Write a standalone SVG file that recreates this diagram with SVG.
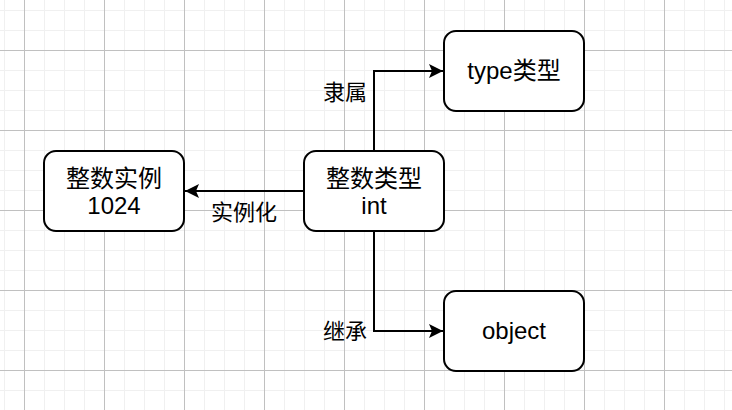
<svg xmlns="http://www.w3.org/2000/svg" width="732" height="410" viewBox="0 0 732 410">
<style>
.node rect{fill:#ffffff;stroke:#000000;stroke-width:2}
.node text{font-family:"Liberation Sans","Noto Sans CJK SC",sans-serif;font-size:24px;fill:#000000;text-anchor:middle}
.edge{fill:none;stroke:#000000;stroke-width:2}
.lbl{font-family:"Liberation Sans","Noto Sans CJK SC",sans-serif;font-size:22px;fill:#000000;text-anchor:middle}
</style>
<defs>
<pattern id="grid" patternUnits="userSpaceOnUse" x="24" y="50" width="80" height="80">
<rect x="20" y="0" width="1" height="80" fill="#f0f0f0"/>
<rect x="40" y="0" width="1" height="80" fill="#f0f0f0"/>
<rect x="60" y="0" width="1" height="80" fill="#f0f0f0"/>
<rect x="0" y="20" width="80" height="1" fill="#f0f0f0"/>
<rect x="0" y="40" width="80" height="1" fill="#f0f0f0"/>
<rect x="0" y="60" width="80" height="1" fill="#f0f0f0"/>
<rect x="0" y="0" width="1" height="80" fill="#c0c0c0"/>
<rect x="0" y="0" width="80" height="1" fill="#c0c0c0"/>
</pattern>
<marker id="arr" viewBox="0 0 14 14" refX="14" refY="7" markerWidth="14" markerHeight="14" markerUnits="userSpaceOnUse" orient="auto">
<path d="M0,0 L14,7 L0,14 L3,7 Z" fill="#000000"/>
</marker>
</defs>
<rect x="0" y="0" width="732" height="410" fill="#ffffff"/>
<rect x="0" y="0" width="732" height="410" fill="url(#grid)"/>
<g id="connectors">
<path class="edge" d="M374,151 L374,71 L443,71" marker-end="url(#arr)"/>
<path class="edge" d="M374,231 L374,331 L443,331" marker-end="url(#arr)"/>
<path class="edge" d="M304,191 L185,191" marker-end="url(#arr)"/>
<text class="lbl" x="345" y="100">隶属</text>
<text class="lbl" x="345" y="339">继承</text>
<text class="lbl" x="244" y="220">实例化</text>
</g>
<g id="node-int" class="node">
<rect x="304" y="151" width="140" height="80" rx="12" ry="12"/>
<text x="374" y="187">整数类型</text>
<text x="374" y="214">int</text>
</g>
<g id="node-type" class="node">
<rect x="444" y="31" width="140" height="80" rx="12" ry="12"/>
<text x="514" y="79">type类型</text>
</g>
<g id="node-object" class="node">
<rect x="444" y="291" width="140" height="80" rx="12" ry="12"/>
<text x="514" y="339">object</text>
</g>
<g id="node-instance" class="node">
<rect x="44" y="151" width="140" height="80" rx="12" ry="12"/>
<text x="114" y="187">整数实例</text>
<text x="114" y="214">1024</text>
</g>
</svg>
